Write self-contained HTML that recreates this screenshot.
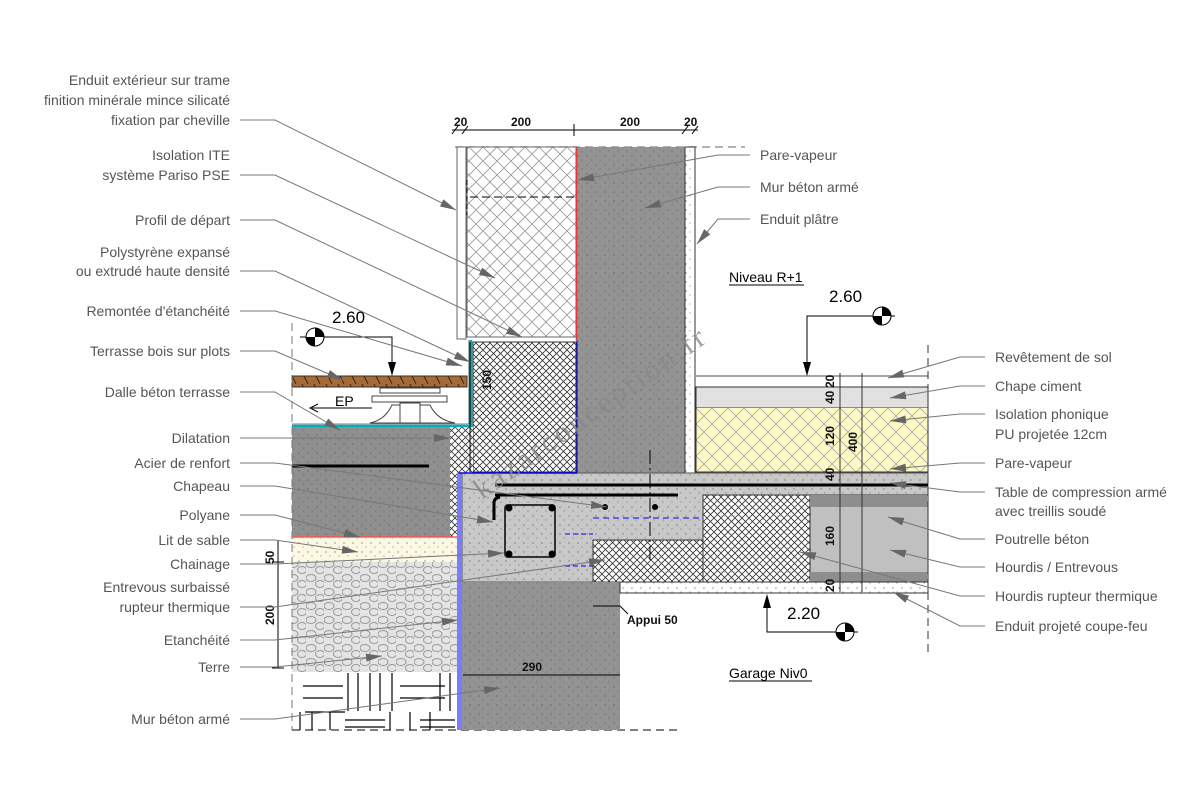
<!DOCTYPE html>
<html><head><meta charset="utf-8"><style>
html,body{margin:0;padding:0;background:#fff;}
svg{display:block;font-family:"Liberation Sans","DejaVu Sans",sans-serif;}
.l{font-size:14px;fill:#555;}
.d{font-size:12px;fill:#111;font-family:"Liberation Sans Narrow","Liberation Sans",sans-serif;font-weight:bold;}
.ld{fill:none;stroke:#777;stroke-width:1;}
</style></head><body>
<svg width="1200" height="800" viewBox="0 0 1200 800" xmlns="http://www.w3.org/2000/svg">
<defs>
<pattern id="xh" width="14" height="14" patternUnits="userSpaceOnUse"><rect width="14" height="14" fill="#fff"/><path d="M0 0L14 14M14 0L0 14" stroke="#999" stroke-width="0.8"/></pattern>
<pattern id="xd" width="7" height="7" patternUnits="userSpaceOnUse"><rect width="7" height="7" fill="#fff"/><path d="M0 0L7 7M7 0L0 7" stroke="#333" stroke-width="0.8"/></pattern>
<pattern id="xy" width="16" height="16" patternUnits="userSpaceOnUse"><rect width="16" height="16" fill="#fdf9c4"/><path d="M0 0L16 16M16 0L0 16" stroke="#aaa" stroke-width="0.8"/></pattern>
<pattern id="gr" width="18" height="14" patternUnits="userSpaceOnUse"><rect width="18" height="14" fill="#e4e4e4"/><ellipse cx="5" cy="4" rx="5" ry="3.5" fill="none" stroke="#999"/><ellipse cx="14" cy="10" rx="4.5" ry="3.5" fill="none" stroke="#999"/></pattern>
<pattern id="wd" width="12" height="12" patternUnits="userSpaceOnUse"><rect width="12" height="12" fill="#a56a36"/><path d="M2 0L8 12" stroke="#3a220e" stroke-width="1"/></pattern>
<pattern id="dt" width="9" height="9" patternUnits="userSpaceOnUse"><circle cx="2" cy="3" r="0.6" fill="#555"/><circle cx="6" cy="7" r="0.5" fill="#555"/></pattern>
<marker id="ar" markerWidth="16" markerHeight="8" refX="16" refY="4" orient="auto" markerUnits="userSpaceOnUse"><path d="M0 0L16 4L0 8z" fill="#666"/></marker>
</defs>

<line x1="455" y1="147" x2="745" y2="147" stroke="#999" stroke-width="1.5" stroke-dasharray="8,5"/>
<rect x="457" y="147" width="9" height="192" fill="#fff" stroke="#666"/>
<rect x="467" y="147" width="109" height="190" fill="url(#xh)" stroke="#666"/>
<path d="M467 180v35" stroke="#000" stroke-dasharray="5,3"/>
<path d="M470 197h148" stroke="#000" stroke-dasharray="8,4"/>
<rect x="577" y="147" width="108" height="326" fill="#939393"/>
<rect x="577" y="147" width="108" height="326" fill="url(#dt)"/>
<line x1="576.5" y1="147" x2="576.5" y2="340" stroke="#e33" stroke-width="1.5"/>
<rect x="685" y="147" width="10" height="326" fill="#fff" stroke="#333"/>
<rect x="685" y="147" width="10" height="326" fill="url(#dt)"/>
<rect x="473" y="342" width="103" height="130" fill="url(#xd)" stroke="#333"/>
<line x1="577" y1="340" x2="577" y2="473" stroke="#00f" stroke-width="1"/>
<rect x="450" y="427" width="23" height="110" fill="url(#xd)"/>
<path d="M292 426H471V340" fill="none" stroke="#00b0b8" stroke-width="2.5"/>
<path d="M292 424H469V340" fill="none" stroke="#000" stroke-width="0.6"/>
<rect x="292" y="376" width="175" height="11" fill="url(#wd)" stroke="#333"/>
<rect x="380" y="388" width="60" height="5" fill="#fff" stroke="#444"/>
<rect x="372" y="396" width="75" height="6" fill="#fff" stroke="#444"/>
<path d="M370 423Q385 420 392 405H430Q437 420 455 423z" fill="#fff" stroke="#444"/>
<rect x="400" y="403" width="20" height="20" fill="#fff" stroke="#444"/>
<path d="M372 408H312" stroke="#000"/><path d="M318 404L310 408L318 412" fill="none" stroke="#000"/>
<text x="335" y="406" font-size="14" fill="#000">EP</text>
<rect x="292" y="427" width="158" height="110" fill="#8f8f8f"/>
<rect x="292" y="427" width="158" height="110" fill="url(#dt)"/>
<line x1="292" y1="466" x2="429" y2="466" stroke="#000" stroke-width="3"/>
<line x1="292" y1="537" x2="457" y2="537" stroke="#f55" stroke-width="1.5"/>
<rect x="292" y="538" width="165" height="24" fill="#fcf8e4"/>
<rect x="292" y="538" width="165" height="24" fill="url(#dt)"/>
<rect x="292" y="562" width="165" height="110" fill="url(#gr)"/>
<rect x="292" y="672" width="165" height="58" fill="#fff"/>
<g stroke="#000" stroke-width="1.2">
<path d="M303 686h40M303 698h40M305 712h40M348 673v38M358 673v38M370 673v38M380 673v38M392 673v38M400 686h45M400 698h45M300 712v18M312 712v18M330 712v18M390 712v18M410 712v18M430 712v18M345 720h40M345 727h40M420 720h35M420 727h35M440 673v38M450 673v38"/>
</g>
<line x1="292" y1="323" x2="292" y2="730" stroke="#777" stroke-dasharray="8,5"/>
<line x1="292" y1="730" x2="680" y2="730" stroke="#000" stroke-dasharray="8,5"/>
<rect x="462" y="473" width="466" height="109" fill="#c8c8c8"/>
<rect x="462" y="473" width="466" height="109" fill="url(#dt)"/>
<rect x="462" y="473" width="466" height="109" fill="none" stroke="#555"/>
<line x1="495" y1="485" x2="928" y2="485" stroke="#000" stroke-width="3"/>
<line x1="495" y1="495" x2="678" y2="495" stroke="#000" stroke-width="3"/>
<path d="M494 520V503Q494 498 500 497" fill="none" stroke="#000" stroke-width="3"/>
<rect x="505" y="505" width="50" height="52" rx="3" fill="none" stroke="#333" stroke-width="2"/>
<g fill="#000"><circle cx="509" cy="508" r="3.5"/><circle cx="552" cy="508" r="3.5"/><circle cx="509" cy="554" r="3.5"/><circle cx="552" cy="554" r="3.5"/><circle cx="605" cy="507" r="3"/><circle cx="655" cy="507" r="3"/></g>
<path d="M593 518H928" stroke="#00f" stroke-dasharray="6,4"/>
<path d="M565 534h28M565 566h28" stroke="#00f" stroke-dasharray="5,3"/>
<rect x="593" y="540" width="110" height="42" fill="url(#xd)" stroke="#333"/>
<rect x="703" y="495" width="107" height="87" fill="url(#xd)" stroke="#333"/>
<rect x="810" y="495" width="118" height="87" fill="#c0c0c0" stroke="#333"/>
<rect x="810" y="495" width="118" height="12" fill="#8e8e8e"/>
<rect x="810" y="572" width="118" height="10" fill="#8e8e8e"/>
<line x1="650" y1="450" x2="650" y2="560" stroke="#000" stroke-dasharray="14,4,2,4"/>
<path d="M459.5 473V730" stroke="#7b7bff" stroke-width="5"/>
<path d="M459 473H577" stroke="#00f" stroke-width="1.5"/>
<rect x="462" y="582" width="158" height="148" fill="#939393"/>
<rect x="462" y="582" width="158" height="148" fill="url(#dt)"/>
<rect x="620" y="582" width="308" height="11" fill="#fff" stroke="#333"/>
<rect x="620" y="582" width="308" height="11" fill="url(#dt)"/>
<path d="M463 675H620" stroke="#000"/>
<text x="522" y="671" class="d">290</text>
<path d="M593 606H620L628 614" stroke="#000" fill="none"/>
<text x="627" y="624" class="d">Appui  50</text>
<rect x="696" y="376" width="232" height="11" fill="#fff"/>
<line x1="696" y1="376" x2="928" y2="376" stroke="#888" stroke-width="1.5"/>
<rect x="696" y="387" width="232" height="21" fill="#e1e1e1" stroke="#333"/>
<rect x="696" y="408" width="232" height="64" fill="url(#xy)"/>
<path d="M696 408V472M696 472H928" stroke="#e33" stroke-width="1"/>
<rect x="696" y="387" width="232" height="85" fill="none" stroke="#333"/>
<path d="M840 373V592M862 373V592" stroke="#333"/>
<line x1="928" y1="345" x2="928" y2="655" stroke="#333" stroke-dasharray="8,5"/>
<g font-size="11"><text transform="translate(834 388) rotate(-90)" class="d">20</text><text transform="translate(834 404) rotate(-90)" class="d">40</text><text transform="translate(834 446) rotate(-90)" class="d">120</text><text transform="translate(857 452) rotate(-90)" class="d">400</text><text transform="translate(834 481) rotate(-90)" class="d">40</text><text transform="translate(834 546) rotate(-90)" class="d">160</text><text transform="translate(834 592) rotate(-90)" class="d">20</text>
<text transform="translate(491 390) rotate(-90)" class="d">150</text>
<text transform="translate(274 564) rotate(-90)" class="d">50</text><text transform="translate(274 625) rotate(-90)" class="d">200</text></g>
<path d="M278 540V668M272 562h12M272 668h12" stroke="#000"/>
<path d="M470 342V472" stroke="#000"/>

<path d="M452 130H698" stroke="#000"/>
<g stroke="#000"><path d="M452 134l6-8M462 134l6-8M574 124v12M682 134l6-8M692 134l6-8"/></g>
<text x="454" y="126" class="d">20</text><text x="511" y="126" class="d">200</text><text x="620" y="126" class="d">200</text><text x="684" y="126" class="d">20</text>

<g>
<path d="M300 337H392V372" stroke="#000" fill="none"/><path d="M388 362L392 376L396 362z" fill="#000"/>
<circle cx="315" cy="337" r="9" fill="#fff" stroke="#000"/><path d="M315 337V328A9 9 0 0 1 324 337z M315 337V346A9 9 0 0 1 306 337z" fill="#000"/>
<text x="332" y="323" font-size="17" fill="#000">2.60</text>
<path d="M807 375V316H895" stroke="#000" fill="none"/><path d="M803 362L807 376L811 362z" fill="#000"/>
<circle cx="882" cy="316" r="9" fill="#fff" stroke="#000"/><path d="M882 316V307A9 9 0 0 1 891 316z M882 316V325A9 9 0 0 1 873 316z" fill="#000"/>
<text x="829" y="302" font-size="17" fill="#000">2.60</text>
<path d="M767 596V632H858" stroke="#000" fill="none"/><path d="M763 608L767 594L771 608z" fill="#000"/>
<circle cx="845" cy="632" r="9" fill="#fff" stroke="#000"/><path d="M845 632V623A9 9 0 0 1 854 632z M845 632V641A9 9 0 0 1 836 632z" fill="#000"/>
<text x="787" y="619" font-size="17" fill="#000">2.20</text>
</g>
<text x="729" y="282" font-size="14" fill="#000">Niveau R+1</text>
<line x1="729" y1="285" x2="804" y2="285" stroke="#000"/>
<text x="729" y="678" font-size="14" fill="#000">Garage Niv0</text>
<line x1="729" y1="681" x2="812" y2="681" stroke="#000"/>

<text transform="translate(482 500) rotate(-35)" font-family="Liberation Serif,serif" font-size="30" fill="#888" fill-opacity="0.8" letter-spacing="3">kazarconception.fr</text>

<g class="l" text-anchor="end">
<text x="230" y="85">Enduit extérieur sur trame</text>
<text x="230" y="105">finition minérale mince silicaté</text>
<text x="230" y="125">fixation par cheville</text>
<text x="230" y="160">Isolation ITE</text>
<text x="230" y="180">système Pariso PSE</text>
<text x="230" y="225">Profil de départ</text>
<text x="230" y="257">Polystyrène expansé</text>
<text x="230" y="276">ou extrudé haute densité</text>
<text x="230" y="316">Remontée d'étanchéité</text>
<text x="230" y="356">Terrasse bois sur plots</text>
<text x="230" y="397">Dalle béton terrasse</text>
<text x="230" y="443">Dilatation</text>
<text x="230" y="468">Acier de renfort</text>
<text x="230" y="491">Chapeau</text>
<text x="230" y="520">Polyane</text>
<text x="230" y="545">Lit de sable</text>
<text x="230" y="569">Chainage</text>
<text x="230" y="592">Entrevous surbaissé</text>
<text x="230" y="612">rupteur thermique</text>
<text x="230" y="645">Etanchéité</text>
<text x="230" y="672">Terre</text>
<text x="230" y="724">Mur béton armé</text>
</g>
<g class="ld" marker-end="url(#ar)">
<path d="M240 120H275L456 210"/>
<path d="M240 175H275L495 278"/>
<path d="M240 220H275L522 337"/>
<path d="M240 271H275L470 362"/>
<path d="M240 311H275L462 366"/>
<path d="M240 351H275L343 380"/>
<path d="M240 392H275L340 430"/>
<path d="M240 438H275L450 438"/>
<path d="M240 463H275L607 507"/>
<path d="M240 486H275L493 522"/>
<path d="M240 515H275L360 537"/>
<path d="M240 540H275L358 552"/>
<path d="M240 564H275L504 553"/>
<path d="M240 607H275L605 560"/>
<path d="M240 640H275L458 620"/>
<path d="M240 667H275L382 656"/>
<path d="M240 719H275L500 688"/>
</g>
<g class="l">
<text x="760" y="160">Pare-vapeur</text>
<text x="760" y="192">Mur béton armé</text>
<text x="760" y="224">Enduit plâtre</text>
<text x="995" y="362">Revêtement de sol</text>
<text x="995" y="391">Chape ciment</text>
<text x="995" y="419">Isolation phonique</text>
<text x="995" y="439">PU projetée 12cm</text>
<text x="995" y="468">Pare-vapeur</text>
<text x="995" y="497">Table de compression armé</text>
<text x="995" y="516">avec treillis soudé</text>
<text x="995" y="544">Poutrelle béton</text>
<text x="995" y="572">Hourdis / Entrevous</text>
<text x="995" y="601">Hourdis rupteur thermique</text>
<text x="995" y="631">Enduit projeté coupe-feu</text>
</g>
<g class="ld" marker-end="url(#ar)">
<path d="M750 155H718L578 180"/>
<path d="M750 187H718L645 208"/>
<path d="M750 219H718L697 244"/>
<path d="M985 357H960L888 378"/>
<path d="M985 386H960L890 398"/>
<path d="M985 414H960L890 421"/>
<path d="M985 463H960L890 469"/>
<path d="M985 492H960L890 483"/>
<path d="M985 539H960L888 517"/>
<path d="M985 567H960L890 550"/>
<path d="M985 596H960L800 552"/>
<path d="M985 626H960L893 592"/>
</g>
</svg>
</body></html>
